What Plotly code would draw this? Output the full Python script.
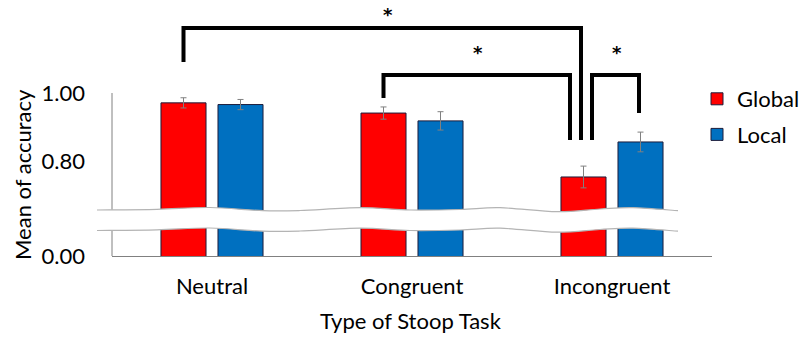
import plotly.graph_objects as go

# ---------------- data ----------------
categories = ["Neutral", "Congruent", "Incongruent"]
global_vals = [0.971, 0.941, 0.753]
local_vals = [0.966, 0.918, 0.856]
global_err = [0.015, 0.018, 0.032]
local_err = [0.015, 0.027, 0.029]
ytick_vals = [0.00, 0.80, 1.00]
ytick_text = ["0.00", "0.80", "1.00"]

# ---------------- styling / layout constants ----------------
FONT = "Lato, 'Open Sans', 'DejaVu Sans', sans-serif"
STAR_FONT = "'DejaVu Sans', sans-serif"
RED = "#FF0000"
BLUE = "#0070C0"
W, H = 803, 337
PLOT_L, PLOT_R, PLOT_T, PLOT_B = 112, 712, 20, 256   # plot area in page pixels
ML, MT = PLOT_L, PLOT_T
MR, MB = W - PLOT_R, H - PLOT_B
PX_PER_UNIT = 340.0                     # pixels per 1.0 of accuracy
ZERO_POS = 0.80 - 95 / PX_PER_UNIT      # where the broken axis puts 0.00
Y_TOP = ZERO_POS + (PLOT_B - PLOT_T) / PX_PER_UNIT


def ypos(v):
    """Map accuracy value to position on the broken axis."""
    return ZERO_POS if v == 0 else v


def to_paper_x(px):
    return (px - PLOT_L) / (PLOT_R - PLOT_L)


def to_paper_y(py):
    return (PLOT_B - py) / (PLOT_B - PLOT_T)


def to_y(py):
    return 1.0 - (py - 93) / PX_PER_UNIT


def y_to_paper(v):
    return (v - ZERO_POS) / (Y_TOP - ZERO_POS)


x_idx = list(range(len(categories)))
off = 0.1425  # half distance between grouped bar centres (axis units)

fig = go.Figure()
fig.add_trace(go.Bar(
    name="Global", x=x_idx, y=global_vals, marker_color=RED,
    marker_line=dict(color="#1c1c3a", width=1), legendgroup="g",
    error_y=dict(type="data", array=global_err, color="#808080", thickness=1, width=3),
))
fig.add_trace(go.Bar(
    name="Local", x=x_idx, y=local_vals, marker_color=BLUE,
    marker_line=dict(color="#1c1c3a", width=1), legendgroup="l",
    error_y=dict(type="data", array=local_err, color="#808080", thickness=1, width=3),
))

shapes = []
# y axis line (from 0.00 to 1.00 only)
shapes.append(dict(type="line", xref="paper", yref="y", x0=0, x1=0,
                   y0=ZERO_POS, y1=1.0, line=dict(color="#808080", width=1)))

# axis break (wavy white band with grey edges)
wave_px_x = [97, 157, 210, 263, 300, 360, 410, 460, 500, 557, 600, 633, 678]
wave_px_y = [210, 209.3, 207.5, 210.7, 210.5, 207.7, 210, 209.5, 207.7, 211.7, 209, 207.7, 210.7]
gap_px = 20.5


def smooth(pts):
    # Catmull-Rom -> cubic bezier
    s = ""
    for i in range(len(pts) - 1):
        p0 = pts[i - 1] if i > 0 else pts[i]
        p1 = pts[i]
        p2 = pts[i + 1]
        p3 = pts[i + 2] if i + 2 < len(pts) else pts[i + 1]
        c1 = (p1[0] + (p2[0] - p0[0]) / 6, p1[1] + (p2[1] - p0[1]) / 6)
        c2 = (p2[0] - (p3[0] - p1[0]) / 6, p2[1] - (p3[1] - p1[1]) / 6)
        s += " C%.5f,%.5f %.5f,%.5f %.5f,%.5f" % (c1[0], c1[1], c2[0], c2[1], p2[0], p2[1])
    return s


top_pts = [(to_paper_x(x), to_y(y)) for x, y in zip(wave_px_x, wave_px_y)]
bot_pts = [(to_paper_x(x), to_y(y + gap_px)) for x, y in zip(wave_px_x, wave_px_y)]
bot_rev = bot_pts[::-1]
band = ("M%.5f,%.5f" % top_pts[0]) + smooth(top_pts) + (" L%.5f,%.5f" % bot_rev[0]) + smooth(bot_rev) + " Z"
shapes.append(dict(type="path", xref="paper", yref="y", path=band,
                   fillcolor="white", line=dict(width=0)))
for pts in (top_pts, bot_pts):
    shapes.append(dict(type="path", xref="paper", yref="y",
                       path=("M%.5f,%.5f" % pts[0]) + smooth(pts),
                       line=dict(color="#b4b4b4", width=1.2)))

# significance brackets: (x_left, y_left_end, x_right, y_right_end, y_top, star_x, star_y)
brackets = [
    (0 - off, 1.091, 2 - 0.155, 0.862, 1.191, 0.88, 1.232),
    (1 - off, 0.985, 2 - 0.21, 0.862, 1.053, 1.33, 1.12),
    (2 - 0.10, 0.862, 2 + 0.135, 0.941, 1.053, 2.025, 1.12),
]
annotations = []
for xl, yl, xr, yr, yt, sx, sy in brackets:
    shapes.append(dict(type="path", xref="x", yref="y",
                       path="M%f,%f L%f,%f L%f,%f L%f,%f" % (xl, yl, xl, yt, xr, yt, xr, yr),
                       line=dict(color="black", width=4)))
    annotations.append(dict(x=sx, y=y_to_paper(sy), xref="x", yref="paper", text="<b>*</b>",
                            showarrow=False, xanchor="center", yanchor="middle",
                            font=dict(family=STAR_FONT, size=18, color="black")))

# axis titles
annotations.append(dict(x=to_paper_x(411), y=to_paper_y(320), xref="paper", yref="paper",
                        text="Type of Stoop Task", showarrow=False,
                        xanchor="center", yanchor="middle",
                        font=dict(family=FONT, size=22, color="black")))
annotations.append(dict(x=to_paper_x(22), y=to_paper_y(175), xref="paper", yref="paper",
                        text="Mean of accuracy", showarrow=False, textangle=-90,
                        xanchor="center", yanchor="middle",
                        font=dict(family=FONT, size=22, color="black")))

fig.update_layout(
    width=W, height=H,
    margin=dict(l=ML, r=MR, t=MT, b=MB, pad=0, autoexpand=False),
    paper_bgcolor="white", plot_bgcolor="white",
    barmode="group", bargap=0.43, bargroupgap=0.21,
    font=dict(family=FONT, size=22, color="black"),
    shapes=shapes, annotations=annotations,
    legend=dict(x=to_paper_x(697), xanchor="left", y=to_paper_y(78), yanchor="top",
                font=dict(family=FONT, size=22, color="black"),
                tracegroupgap=4, bgcolor="rgba(0,0,0,0)"),
    xaxis=dict(range=[-0.5, 2.5], tickvals=x_idx, ticktext=categories,
               showline=True, linecolor="#808080", linewidth=1, ticks="",
               showgrid=False, zeroline=False, ticklabelstandoff=11,
               tickfont=dict(family=FONT, size=22, color="black")),
    yaxis=dict(range=[ZERO_POS, Y_TOP], tickvals=[ypos(v) for v in ytick_vals],
               ticktext=ytick_text, showline=False, ticks="", showgrid=False,
               zeroline=False, ticklabelstandoff=26,
               tickfont=dict(family=FONT, size=22, color="black")),
)

fig.write_html("out.html", config={"displayModeBar": False},
               post_script="document.body.style.margin='0';")
